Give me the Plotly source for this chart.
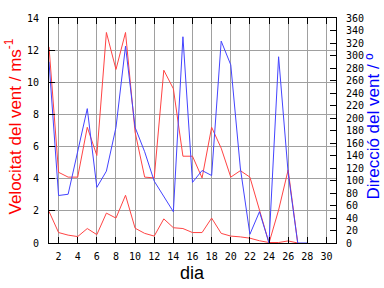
import plotly.graph_objects as go

days = list(range(1, 29))
vel_max = [12.2, 4.4, 4.1, 4.1, 7.2, 5.45, 13.1, 10.8, 13.1, 6.9, 4.1, 4.05, 10.75, 9.6,
           5.4, 5.4, 4.05, 7.2, 5.9, 4.1, 4.5, 4.1, 2.05, 0.0, 2.05, 4.55, 0.0, None]
vel_mean = [1.97, 0.65, 0.49, 0.4, 0.9, 0.52, 1.86, 1.55, 2.97, 0.92, 0.6, 0.43, 1.5, 0.95,
            0.9, 0.65, 0.65, 1.55, 0.6, 0.43, 0.38, 0.3, 0.14, 0.03, 0.03, 0.13, 0.0, None]
direction = [290, 76, 78, 145, 215, 89, 115, 185, 315, 185, 146, 99, 75, 50,
             330, 97, 116, 108, 323, 285, 120, 14, 50, 0, 298, 112, 0, 0]

x_ticks = list(range(2, 31, 2))
y_ticks = list(range(0, 15, 2))
y2_ticks = list(range(0, 361, 20))

RED = "#ff4444"
BLUE = "#4444ff"
GRID = "#a0a0a0"
TICKFONT = dict(family="DejaVu Sans Mono", size=10, color="black")

fig = go.Figure()
fig.add_trace(go.Scatter(x=days, y=vel_max, mode="lines", line=dict(color=RED, width=1),
                         showlegend=False, connectgaps=False))
fig.add_trace(go.Scatter(x=days, y=vel_mean, mode="lines", line=dict(color=RED, width=1),
                         showlegend=False, connectgaps=False))
fig.add_trace(go.Scatter(x=days, y=direction, mode="lines", line=dict(color=BLUE, width=1),
                         showlegend=False, yaxis="y2"))

fig.update_layout(
    width=384, height=288,
    margin=dict(l=49, r=48, t=14, b=45, pad=0),
    paper_bgcolor="white", plot_bgcolor="white",
    xaxis=dict(range=[1, 31], tickvals=x_ticks, ticktext=[str(v) for v in x_ticks],
               showgrid=True, gridcolor=GRID, gridwidth=1,
               ticks="inside", ticklen=6, tickcolor="black", tickwidth=1,
               showline=True, linecolor="black", linewidth=1, mirror="ticks",
               zeroline=False, tickfont=TICKFONT, ticklabelstandoff=4),
    yaxis=dict(range=[0, 14], tickvals=y_ticks, ticktext=[str(v) for v in y_ticks],
               showgrid=True, gridcolor=GRID, gridwidth=1,
               ticks="inside", ticklen=6, tickcolor="black", tickwidth=1,
               showline=True, linecolor="black", linewidth=1,
               zeroline=False, tickfont=TICKFONT, ticklabelstandoff=7),
    yaxis2=dict(range=[0, 360], tickvals=y2_ticks, ticktext=[str(v) for v in y2_ticks],
                overlaying="y", side="right", showgrid=False,
                ticks="inside", ticklen=6, tickcolor="black", tickwidth=1,
                showline=True, linecolor="black", linewidth=1,
                zeroline=False, tickfont=TICKFONT, ticklabelstandoff=7),
    annotations=[
        dict(text="Velocitat del vent / ms<sup>-1</sup>", xref="paper", yref="paper",
             x=0, y=0.5, xanchor="center", yanchor="middle", xshift=-36, yshift=4,
             textangle=-90, showarrow=False,
             font=dict(family="Liberation Sans", size=17, color="#ff0000")),
        dict(text="Direcció del vent / º", xref="paper", yref="paper",
             x=1, y=0.5, xanchor="center", yanchor="middle", xshift=37, yshift=4,
             textangle=-90, showarrow=False,
             font=dict(family="Liberation Sans", size=17, color="#0000ff")),
        dict(text="dia", xref="paper", yref="paper",
             x=0.5, y=0, xanchor="center", yanchor="middle", yshift=-30,
             showarrow=False,
             font=dict(family="Liberation Sans", size=18, color="black")),
    ],
)

fig.write_html("out.html")
